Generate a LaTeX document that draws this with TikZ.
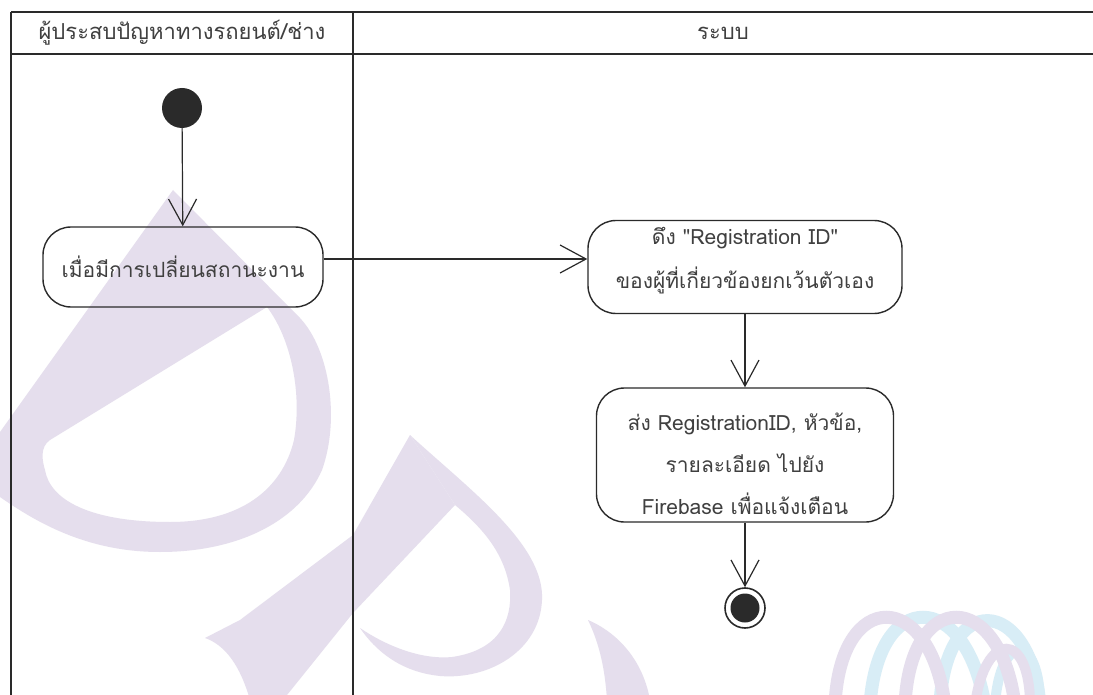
\documentclass[tikz,border=0pt]{standalone}
\usepackage{fontspec}
\newfontfamily\thaifont[Script=Thai]{Loma}
\usetikzlibrary{arrows.meta}
\definecolor{ink}{HTML}{2A2A2A}
\definecolor{txt}{HTML}{404040}
\definecolor{wmlav}{HTML}{E5DEED}
\definecolor{wmblue}{HTML}{D8EDF6}

\begin{document}
\begin{tikzpicture}[x=1pt,y=-1pt,
  lane/.style={draw=ink, line width=2.6pt},
  action/.style={draw=ink, line width=1.4pt, rounded corners=28pt, align=center,
    inner sep=0pt, text=txt, font=\thaifont\fontsize{21}{44}\selectfont},
  dot/.style={circle, fill=ink, inner sep=0pt},
  flow/.style={draw=ink, line width=1.2pt,
    -{Straight Barb[length=26pt,width=28pt,line width=1.2pt]}},
  lanetitle/.style={text=txt, font=\thaifont\fontsize{22}{24}\selectfont},
  ribbon/.style={line width=13pt}
]
\useasboundingbox (0,0) rectangle (1093,695);
\fill[white] (0,0) rectangle (1093,695);

% ---- background emblem: letters D, P, U and the ribbon mark ----
\begin{scope}
\clip (0,0) rectangle (1093,695);
% D
\fill[wmlav, even odd rule]
  (173,190) -- (-40,488) -- (0,497)
  .. controls (40,525) and (90,552) .. (160,552)
  .. controls (240,552) and (300,520) .. (322,470)
  .. controls (340,420) and (330,350) .. (300,318) -- cycle
  (267,307) -- (50,440)
  .. controls (40,447) and (42,460) .. (45,470)
  .. controls (50,500) and (90,522) .. (170,522)
  .. controls (240,522) and (282,490) .. (294,440)
  .. controls (302,395) and (292,340) .. (267,307) -- cycle;
% P stem
\fill[wmlav] (410,435) -- (353,535) -- (240,620) -- (205,638)
  .. controls (225,645) and (240,665) .. (250,700) -- (283,700)
  -- (353,613) -- (455,505) -- cycle;
% P bowl
\fill[wmlav] (410,435) .. controls (470,490) and (545,545) .. (542,600)
  .. controls (540,650) and (490,680) .. (440,676)
  .. controls (400,672) and (375,650) .. (360,628)
  .. controls (385,645) and (420,660) .. (452,657)
  .. controls (500,650) and (512,620) .. (510,590)
  .. controls (505,555) and (485,530) .. (455,505) -- cycle;
% U
\fill[wmlav] (588,620) .. controls (612,630) and (642,655) .. (650,700)
  -- (607,700) .. controls (605,670) and (600,645) .. (588,620) -- cycle;
% ribbon mark
\draw[wmblue, ribbon] (870,705) .. controls (878,588) and (965,588) .. (985,705);
\draw[wmblue, ribbon] (940,705) .. controls (945,590) and (1030,595) .. (1040,705);
\draw[wmblue, line width=10pt] (995,705) .. controls (1000,632) and (1040,632) .. (1040,705);
\draw[wmlav, ribbon] (835,705) .. controls (840,588) and (930,588) .. (945,705);
\draw[wmlav, ribbon] (905,705) .. controls (910,588) and (1000,588) .. (1015,705);
\draw[wmlav, line width=10pt] (975,705) .. controls (985,630) and (1030,630) .. (1030,705);
\end{scope}

% ---- swimlanes ----
\coordinate (tl) at (11,12);
\coordinate (tr) at (1093,12);
\coordinate (hl) at (11,54);
\coordinate (hr) at (1093,54);
\coordinate (bl) at (11,695);
\coordinate (sep) at (353,12);
\coordinate (sepb) at (353,695);
\draw[lane] (tl) -- (tr);
\draw[lane] (hl) -- (hr);
\draw[lane] (tl) -- (bl);
\draw[lane] (sep) -- (sepb);

\node[lanetitle] (lane1) at (182,33) {ผู้ประสบปัญหาทางรถยนต์/ช่าง};
\node[lanetitle] (lane2) at (723,33) {ระบบ};

% ---- activity flow ----
\node[dot, minimum size=40pt] (start) at (182,108) {};
\node[action, minimum width=280pt, minimum height=80pt] (a1) at (183,267)
  {เมื่อมีการเปลี่ยนสถานะงาน};
\node[action, minimum width=314pt, minimum height=93pt] (a2) at (745,267)
  {ดึง "Registration ID"\\ของผู้ที่เกี่ยวข้องยกเว้นตัวเอง\rule[-18pt]{0pt}{1pt}};
\node[action, minimum width=297pt, minimum height=134pt, font=\thaifont\fontsize{21}{42}\selectfont]
  (a3) at (745,455)
  {\rule{0pt}{36pt}ส่ง RegistrationID, หัวข้อ,\\รายละเอียด ไปยัง\\Firebase เพื่อแจ้งเตือน};
\node[circle, draw=ink, line width=1.6pt, minimum size=40pt, inner sep=0pt] (end) at (745,608) {};
\node[dot, minimum size=29pt] (endcore) at (end) {};

\draw[flow] (start) -- (a1);
\draw[flow] ([yshift=8pt]a1.east) -- ([yshift=8pt]a2.west);
\draw[flow] (a2) -- (a3);
\draw[flow] (a3) -- (end);
\end{tikzpicture}
\end{document}
